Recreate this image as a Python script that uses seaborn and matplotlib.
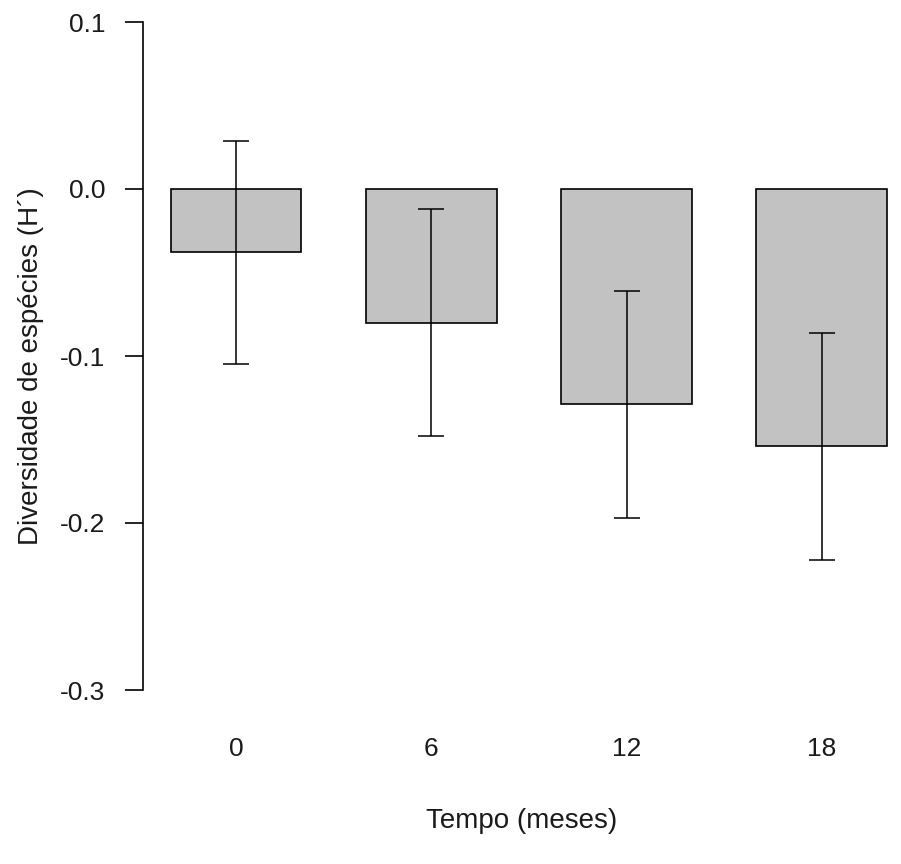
import matplotlib
matplotlib.use("Agg")
import matplotlib.pyplot as plt
import seaborn as sns
import pandas as pd
import numpy as np

tempo = ["0", "6", "12", "18"]
diversidade = [-0.038, -0.080, -0.129, -0.154]
erro = [0.067, 0.068, 0.068, 0.068]

sns.set_style("white")
plt.rcParams["font.family"] = ["Liberation Sans", "DejaVu Sans"]

df = pd.DataFrame({"tempo": tempo, "div": diversidade})

fig = plt.figure(figsize=(9.01, 8.64), dpi=100)
ax = fig.add_axes([143 / 901, (864 - 690) / 864, 758 / 901, 668 / 864])

sns.barplot(data=df, x="tempo", y="div", order=tempo, width=0.67,
            color="#c2c2c2", saturation=1, edgecolor="black", linewidth=1.2,
            errorbar=None, ax=ax)
ax.errorbar(np.arange(len(tempo)), diversidade, yerr=erro, fmt="none",
            ecolor="black", elinewidth=1.1, capsize=9.7, capthick=1.1, zorder=5)

ax.set_xlim(-0.476, 3.405)
ax.set_ylim(-0.3, 0.1)
ax.set_yticks([-0.3, -0.2, -0.1, 0.0, 0.1])
ax.set_yticklabels(["-0.3", "-0.2", "-0.1", "0.0", "0.1"])

for s in ["top", "right", "bottom"]:
    ax.spines[s].set_visible(False)
ax.spines["left"].set_color("black")
ax.spines["left"].set_linewidth(1.2)

ax.tick_params(axis="y", left=True, length=13, width=1.2, color="black",
               labelsize=19, pad=14, labelcolor="#1a1a1a")
ax.tick_params(axis="x", bottom=False, length=0, labelsize=19, pad=34,
               labelcolor="#1a1a1a")

ax.set_xlabel("Tempo (meses)", fontsize=20, labelpad=34, color="#1a1a1a")
ax.set_ylabel("Diversidade de espécies (H´)", fontsize=20, labelpad=10,
              color="#1a1a1a")
ax.yaxis.set_label_coords(-0.131, 0.485)

fig.savefig("out.png", dpi=100, facecolor="white")
